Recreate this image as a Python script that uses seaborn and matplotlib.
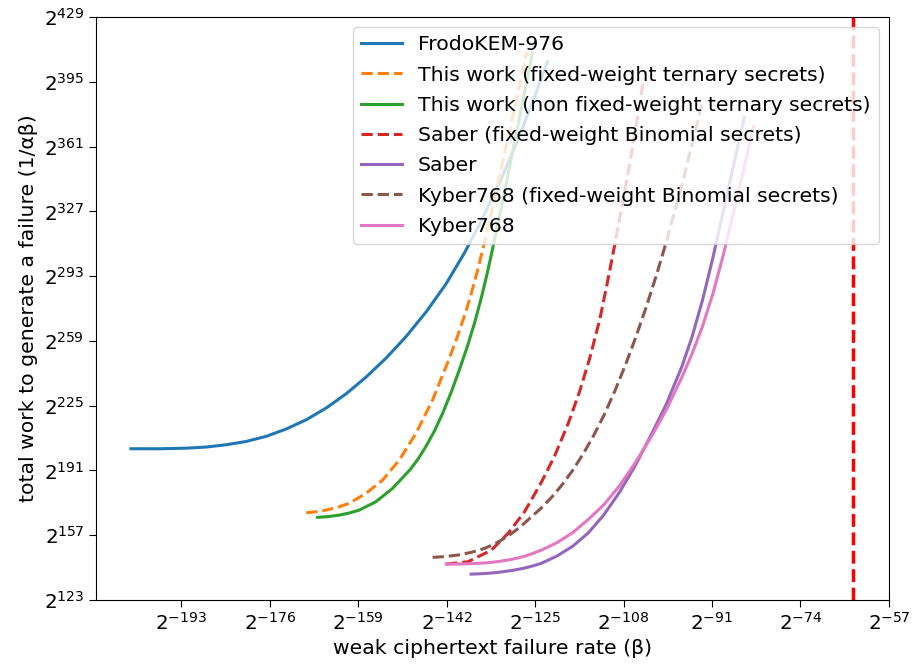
import numpy as np
import pandas as pd
import matplotlib
matplotlib.use("Agg")
import matplotlib.pyplot as plt
from matplotlib.ticker import FuncFormatter
import seaborn as sns

# all values are log2: x = log2(beta), y = log2(1/(alpha*beta))
frodo_x = [-202.7, -197.2, -192.1, -188.2, -184.4, -180.6, -176.7, -172.9, -169.0, -165.2, -161.3, -157.5,
           -153.6, -149.8, -145.9, -142.1, -138.6, -135.4, -132.2, -129.8, -127.5, -125.0, -122.6]
frodo_y = [202.4, 202.4, 202.7, 203.3, 204.5, 206.2, 208.9, 212.7, 217.6, 223.7, 231.3, 240.0,
           250.1, 261.3, 274.4, 289.0, 305.1, 321.7, 339.9, 354.8, 370.2, 387.9, 405.7]

ours_fw_x = [-169.0, -167.2, -165.2, -163.0, -160.7, -157.5, -154.3, -151.1, -147.9, -144.7, -141.5,
             -140.0, -138.5, -137.3, -136.1, -135.0, -133.0, -131.0, -128.8, -126.6]
ours_fw_y = [168.8, 169.3, 170.2, 171.6, 173.8, 179.0, 186.0, 196.5, 210.5, 228.0, 249.8,
             260.8, 272.8, 283.6, 295.6, 307.7, 331.3, 355.7, 383.0, 410.5]

ours_nfw_x = [-166.8, -164.7, -162.6, -160.7, -158.8, -155.6, -152.4, -149.1, -147.5, -145.9, -144.3,
              -142.7, -141.1, -139.5, -138.0, -136.6, -135.3, -134.3, -133.3, -131.3, -129.3, -127.3, -125.5]
ours_nfw_y = [166.4, 166.8, 167.6, 168.7, 170.2, 174.6, 181.6, 191.2, 197.0, 204.0, 212.0,
              221.5, 232.3, 244.3, 256.3, 268.8, 282.1, 293.4, 305.7, 331.7, 358.5, 385.7, 410.4]

saber_fw_x = [-142.1, -137.9, -133.4, -130.2, -127.0, -123.8, -121.3, -118.6, -116.5, -114.5, -112.6,
              -111.2, -109.7, -106.8, -104.2]
saber_fw_y = [141.9, 143.1, 149.2, 158.0, 169.5, 184.8, 198.3, 216.0, 232.0, 250.0, 270.0,
              288.5, 309.4, 352.2, 395.1]

saber_x = [-137.3, -135.3, -133.3, -131.3, -129.3, -127.3, -125.3, -123.8, -120.8, -117.8, -114.8,
           -111.8, -108.8, -105.8, -102.8, -99.8, -96.8, -94.8, -92.8, -90.8, -87.8, -84.8]
saber_y = [136.6, 136.8, 137.2, 137.8, 138.6, 139.6, 141.0, 142.3, 146.1, 151.2, 158.2,
           167.7, 179.5, 193.3, 209.2, 225.7, 245.5, 261.5, 280.7, 303.1, 339.7, 376.3]

kyber_fw_x = [-144.7, -142.3, -139.9, -137.3, -134.7, -132.4, -130.2, -127.9, -125.7, -123.7, -121.7, -119.7,
              -117.7, -115.7, -113.7, -111.7, -109.7, -107.7, -105.7, -103.7, -101.7, -99.7, -96.7, -92.8]
kyber_fw_y = [145.4, 145.8, 146.6, 148.0, 150.1, 153.0, 156.6, 161.3, 166.7, 171.6, 177.3, 183.9,
              191.4, 200.0, 209.6, 220.4, 232.6, 246.0, 260.6, 276.4, 293.4, 311.8, 341.8, 384.7]

kyber_x = [-142.1, -140.0, -138.0, -136.0, -134.0, -132.1, -130.2, -128.6, -127.0, -125.4, -123.8, -120.8,
           -117.8, -114.8, -111.8, -108.8, -105.8, -102.8, -99.8, -96.8, -94.8, -92.8, -90.8, -88.8, -85.8, -83.0]
kyber_y = [141.9, 141.9, 142.0, 142.25, 142.6, 143.2, 144.0, 144.9, 146.0, 147.5, 149.2, 153.1,
           158.35, 165.25, 173.0, 182.9, 194.9, 208.1, 222.8, 239.9, 252.5, 266.9, 284.1, 304.5, 338.7, 371.7]

limit_x = -64

x_ticks = [-193, -176, -159, -142, -125, -108, -91, -74, -57]
y_ticks = [123, 157, 191, 225, 259, 293, 327, 361, 395, 429]

series = [
    ("FrodoKEM-976", frodo_x, frodo_y, "tab:blue", "-"),
    ("This work (fixed-weight ternary secrets)", ours_fw_x, ours_fw_y, "tab:orange", "--"),
    ("This work (non fixed-weight ternary secrets)", ours_nfw_x, ours_nfw_y, "tab:green", "-"),
    ("Saber (fixed-weight Binomial secrets)", saber_fw_x, saber_fw_y, "tab:red", "--"),
    ("Saber", saber_x, saber_y, "tab:purple", "-"),
    ("Kyber768 (fixed-weight Binomial secrets)", kyber_fw_x, kyber_fw_y, "tab:brown", "--"),
    ("Kyber768", kyber_x, kyber_y, "tab:pink", "-"),
]

fig = plt.figure(figsize=(9.14, 6.67), dpi=100)
ax = fig.add_axes([0.105, 0.1004, 0.8676, 0.8741])

for name, xs, ys, col, ls in series:
    df = pd.DataFrame({"beta": xs, "work": ys})
    sns.lineplot(data=df, x="beta", y="work", sort=False, estimator=None,
                 color=col, linestyle=ls, linewidth=2.2, label=name, ax=ax)

# vertical limit line
ax.axvline(limit_x, color="r", linestyle="--", linewidth=2.5)

ax.set_xlim(-209.4, -57)
ax.set_ylim(123, 429)
ax.set_xticks(x_ticks)
ax.set_yticks(y_ticks)
fmt = FuncFormatter(lambda v, p: r"$2^{%d}$" % int(round(v)))
ax.xaxis.set_major_formatter(fmt)
ax.yaxis.set_major_formatter(fmt)
ax.tick_params(labelsize=14.4, length=5)

ax.set_xlabel("weak ciphertext failure rate (β)", fontsize=14.7)
ax.set_ylabel("total work to generate a failure (1/αβ)", fontsize=14.7)
ax.legend(loc="upper right", fontsize=14.7, labelspacing=0.55)

fig.savefig("out.png", dpi=100)
